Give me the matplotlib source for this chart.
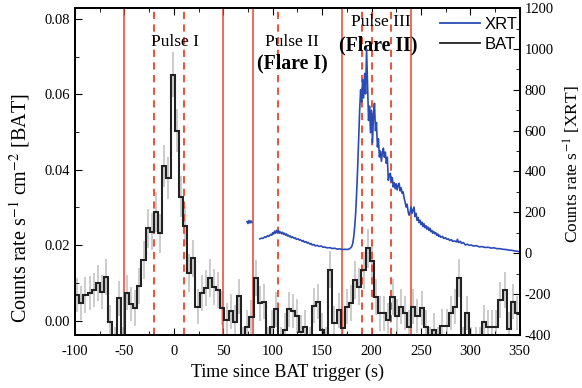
import matplotlib
matplotlib.use("Agg")
import matplotlib.pyplot as plt
import numpy as np
from matplotlib.lines import Line2D

plt.rcParams["font.family"] = ["Liberation Serif", "DejaVu Serif"]
plt.rcParams["mathtext.fontset"] = "stix"
plt.rcParams["axes.unicode_minus"] = False

# BAT light curve (4.2 s bins starting at -100 s)
bat_t0 = -100.0
bat_bin = 4.2
bat_rate = [
    0.0068, 0.0046, 0.0068, 0.0073, 0.0081, 0.0099, 0.0075, 0.0115, -0.0005, -0.006,
    0.0059, -0.006, 0.0074, 0.0044, 0.0033, 0.0092, 0.0161, 0.0245, 0.0236, 0.0289,
    0.0232, 0.0410, 0.0378, 0.0652, 0.0504, 0.0329, 0.0250, 0.0126, 0.0165, 0.0037,
    0.0073, 0.0086, 0.0112, 0.0090, 0.0081, 0.0033, 0.0002, 0.0024, -0.0003, 0.0064,
    -0.006, -0.0016, 0.0010, 0.0112, 0.0046, 0.0050, -0.006, -0.0016, 0.0030, -0.006,
    -0.0025, 0.0030, 0.0025, 0.0012, -0.0030, -0.0016, -0.006, 0.0039, 0.0050, -0.0025,
    -0.006, 0.0135, -0.0007, 0.0027, -0.0020, 0.0037, 0.0046, 0.0108, 0.0090, 0.0133,
    0.0192, 0.0157, 0.0062, 0.0019, 0.0019, 0.0002, 0.0062, 0.0011, 0.0037, 0.0020,
    -0.0016, 0.0037, 0.0011, 0.0033, -0.0016, -0.006, -0.0025, -0.006, -0.0014, -0.0014,
    0.0020, 0.0037, 0.0112, -0.006, 0.0020, -0.006, -0.006, -0.006, -0.0003, -0.0016,
    -0.0016, -0.0016, 0.0055, 0.0081, -0.0023, 0.0050, 0.0020,
]
bat_err = [
    0.0045, 0.0045, 0.0048, 0.0045, 0.0046, 0.0048, 0.0045, 0.0047, 0.0045, 0.0044,
    0.0046, 0.0044, 0.0046, 0.0045, 0.0047, 0.0048, 0.0050, 0.0052, 0.0050, 0.0053,
    0.0052, 0.0055, 0.0055, 0.0060, 0.0058, 0.0055, 0.0052, 0.0050, 0.0050, 0.0046,
    0.0047, 0.0048, 0.0050, 0.0048, 0.0047, 0.0046, 0.0045, 0.0046, 0.0045, 0.0047,
    0.0044, 0.0045, 0.0045, 0.0048, 0.0046, 0.0046, 0.0044, 0.0045, 0.0046, 0.0044,
    0.0045, 0.0046, 0.0045, 0.0046, 0.0044, 0.0045, 0.0044, 0.0046, 0.0047, 0.0045,
    0.0044, 0.0050, 0.0045, 0.0046, 0.0045, 0.0047, 0.0047, 0.0050, 0.0049, 0.0050,
    0.0052, 0.0050, 0.0047, 0.0046, 0.0046, 0.0045, 0.0047, 0.0046, 0.0046, 0.0046,
    0.0045, 0.0046, 0.0045, 0.0046, 0.0045, 0.0044, 0.0045, 0.0044, 0.0045, 0.0045,
    0.0046, 0.0046, 0.0050, 0.0044, 0.0046, 0.0044, 0.0044, 0.0044, 0.0045, 0.0045,
    0.0045, 0.0045, 0.0047, 0.0048, 0.0045, 0.0047, 0.0046,
]

# XRT light curve (two segments)
xrt_t1 = [74, 75, 76, 77, 78, 79]
xrt_c1 = [155, 145, 160, 148, 158, 150]
xrt_t2 = [
    87, 89, 90, 92, 93, 95, 96, 98, 99, 100, 101, 102, 103, 104, 105, 106, 107, 108, 109, 110,
    111, 112, 113, 114, 115, 116, 117, 118, 119, 120, 122, 123, 124, 126, 127, 128, 130, 131, 132, 134,
    135, 136, 138, 139, 140, 142, 143, 145, 147, 149, 151, 153, 155, 158, 160, 163, 165, 168, 170, 173,
    176, 178, 180, 181, 182, 183, 184, 185, 186, 187, 188, 189, 190, 191, 192, 193, 194, 195, 196, 197,
    198, 199, 200, 201, 202, 203, 204, 205, 206, 207, 208, 209, 210, 211, 212, 213, 214, 215, 216, 217,
    218, 219, 220, 221, 222, 223, 224, 225, 226, 227, 228, 229, 230, 231, 232, 233, 234, 235, 236, 237,
    238, 239, 240, 241, 242, 243, 244, 245, 246, 247, 248, 249, 250, 251, 252, 253, 254, 255, 256, 257,
    258, 259, 260, 261, 262, 263, 264, 265, 266, 267, 268, 269, 270, 272, 273, 275, 276, 278, 279, 281,
    282, 284, 286, 287, 288, 290, 291, 293, 295, 297, 299, 301, 303, 306, 309, 312, 315, 318, 321, 324,
    327, 330, 333, 336, 339, 342, 345, 348, 350,
]
xrt_c2 = [
    70, 74, 72, 80, 77, 86, 82, 92, 88, 100, 94, 108, 98, 112, 100, 110, 98, 104, 95, 102,
    92, 98, 88, 94, 84, 88, 80, 84, 76, 80, 72, 75, 68, 70, 64, 66, 58, 62, 54, 56,
    49, 52, 44, 47, 40, 42, 36, 38, 33, 35, 29, 30, 26, 27, 23, 24, 20, 21, 18, 19,
    18, 22, 32, 48, 80, 130, 200, 300, 420, 560, 700, 800, 740, 850, 760, 880, 780, 1000, 820, 650,
    720, 590, 700, 540, 680, 734, 600, 640, 520, 560, 471, 500, 450, 490, 514, 470, 495, 440, 470, 357,
    380, 391, 350, 370, 324, 345, 315, 340, 310, 333, 342, 305, 320, 293, 300, 270, 250, 226, 240, 205,
    186, 200, 226, 195, 210, 226, 180, 195, 161, 175, 150, 162, 140, 152, 130, 145, 125, 135, 118, 128,
    112, 122, 105, 112, 98, 106, 95, 100, 88, 94, 82, 88, 78, 82, 72, 76, 68, 70, 62, 66,
    58, 60, 55, 68, 52, 58, 48, 52, 40, 44, 38, 40, 35, 37, 31, 32, 28, 29, 25, 26,
    22, 22, 19, 18, 15, 14, 11, 9, 7,
]

# pulse boundaries
solid_lines = [-50, 50, 80, 170, 240]
dashed_lines = [-20, 10, 105, 190, 200, 220]

red = "#e8452c"
blue = "#2a4bb5"

fig = plt.figure(figsize=(5.82, 3.88), dpi=100)
ax = fig.add_axes([0.129, 0.137, 0.764, 0.842])

edges = bat_t0 + bat_bin * np.arange(len(bat_rate) + 1)
centers = 0.5 * (edges[:-1] + edges[1:])
ax.errorbar(centers, bat_rate, yerr=bat_err, fmt="none", ecolor="#c8c8c8",
            elinewidth=1.3, capsize=0, zorder=1)
ax.stairs(bat_rate, edges, baseline=None, color="#222222", lw=1.5, zorder=3)

for x in solid_lines:
    ax.axvline(x, color=red, lw=1.1, zorder=2)
for x in dashed_lines:
    ax.axvline(x, color=red, lw=1.3, ls=(0, (4, 3)), zorder=2)

ax.set_xlim(-100, 350)
ax.set_ylim(-0.0038, 0.0829)
ax.set_xticks(np.arange(-100, 351, 50))
ax.set_xticks(np.arange(-100, 351, 25), minor=True)
ax.set_yticks([0.0, 0.02, 0.04, 0.06, 0.08])
ax.set_yticks([0.01, 0.03, 0.05, 0.07], minor=True)
ax.yaxis.set_major_formatter(matplotlib.ticker.FormatStrFormatter("%.2f"))
ax.tick_params(which="both", direction="in", top=True, labelsize=10.5)
ax.tick_params(which="major", length=5)
ax.tick_params(which="minor", length=3)
ax.tick_params(axis="x", pad=7)
ax.set_xlabel("Time since BAT trigger (s)", fontsize=13)
ax.xaxis.set_label_coords(0.478, -0.088)
ax.set_ylabel("Counts rate s$^{-1}$ cm$^{-2}$ [BAT]", fontsize=14.5)
ax.yaxis.set_label_coords(-0.096, 0.388)

ax2 = ax.twinx()
ax2.plot(xrt_t1, xrt_c1, color=blue, lw=1.2)
ax2.plot(xrt_t2, xrt_c2, color=blue, lw=1.2)
ax2.set_ylim(-400, 1200)
ax2.set_yticks(np.arange(-400, 1201, 200))
ax2.set_yticks(np.arange(-300, 1200, 200), minor=True)
ax2.tick_params(which="both", direction="in", labelsize=10.5)
ax2.tick_params(which="major", length=5)
ax2.tick_params(which="minor", length=3)
ax2.set_ylabel("Counts rate s$^{-1}$ [XRT]", fontsize=12.5)
ax2.yaxis.set_label_coords(1.094, 0.523)

for s in list(ax.spines.values()) + list(ax2.spines.values()):
    s.set_linewidth(1.3)

ax.text(1, 0.0739, "Pulse I", ha="center", va="center", fontsize=12.5)
ax.text(119, 0.0739, "Pulse II", ha="center", va="center", fontsize=12.5)
ax.text(120, 0.0683, "(Flare I)", ha="center", va="center", fontsize=14.3, fontweight="bold")
ax.text(209.5, 0.0792, "Pulse III", ha="center", va="center", fontsize=12.5)
ax.text(206.5, 0.0731, "(Flare II)", ha="center", va="center", fontsize=14.3, fontweight="bold")

handles = [Line2D([], [], color=blue, lw=1.3), Line2D([], [], color="#222222", lw=1.3)]
ax2.legend(handles, ["XRT", "BAT"], loc="upper right", bbox_to_anchor=(1.007, 0.988),
           frameon=False, prop={"family": "Liberation Sans", "size": 12}, handlelength=2.4,
           handletextpad=0.3, borderaxespad=0.1, borderpad=0.2, labelspacing=0.3)

fig.savefig("out.png", dpi=100)
